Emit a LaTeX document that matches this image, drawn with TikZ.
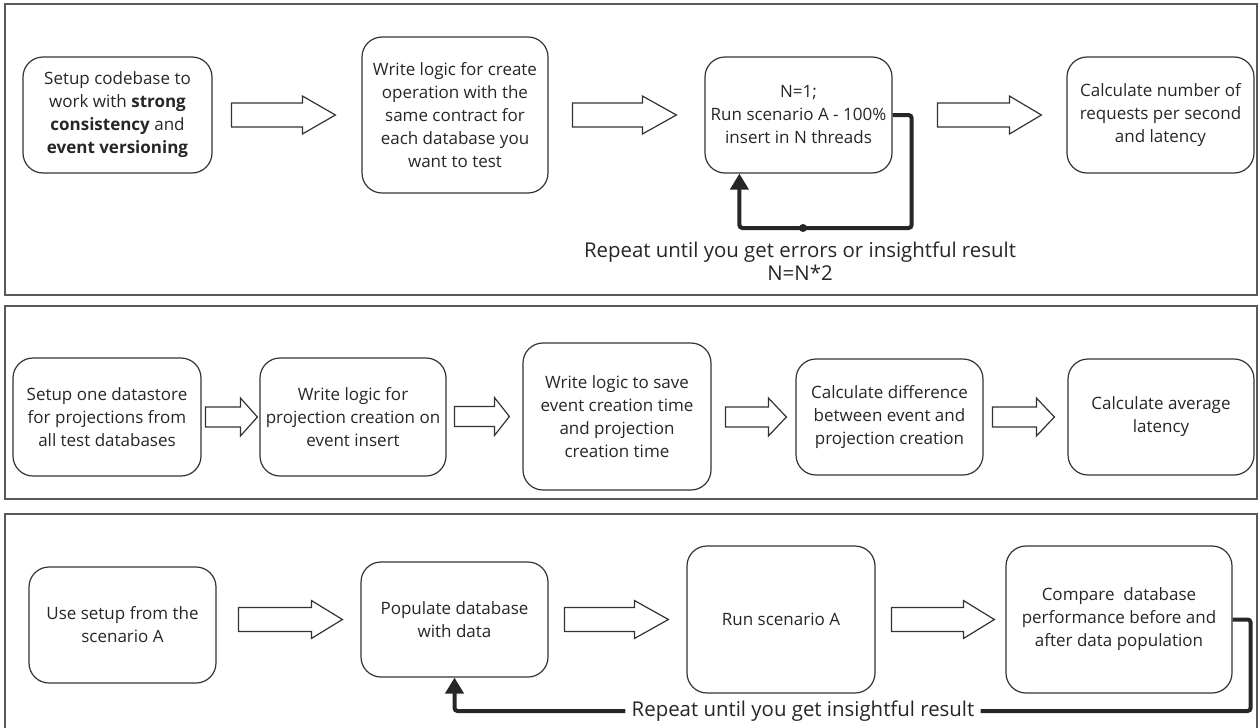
\documentclass[tikz,border=0pt]{standalone}
\usepackage{fontspec}
\setmainfont{Open Sans}
\usetikzlibrary{calc,arrows.meta}

\tikzset{
	panel/.style={draw=black!65,line width=0.8pt},
	box/.style 2 args={draw=black!80,line width=0.6pt,rounded corners=10pt,align=center,text=black!85,
		minimum width=#1*0.5pt,minimum height=#2*0.5pt,inner sep=2pt,font=\fontsize{8.5}{11.5}\selectfont},
	bigarrow/.style={draw=black!80,line width=0.6pt,fill=white,line join=miter},
	loopline/.style={draw=black!85,line width=2pt,rounded corners=1.5pt},
	looplabel/.style={align=center,text=black!85,inner sep=3pt,font=\fontsize{10.2}{11.5}\selectfont},
}

% hollow arrow, tip #2 before anchor #1
% #3 length, #4 head length, #5 half shaft, #6 half head
\newcommand{\hollowarrow}[6]{%
	\draw[bigarrow] ($(#1)+(-#2,0)$) -- ++(-#4,#6) -- ++(0,#5-#6) -- ++(#4-#3,0) -- ++(0,-2*#5) -- ++(#3-#4,0) -- ++(0,#5-#6) -- cycle;}

\begin{document}
\begin{tikzpicture}[x=0.5pt,y=-0.5pt,>={Triangle[length=8pt,width=9pt]}]
	\useasboundingbox (0,0) rectangle (1259,728);
	% panels
	\draw[panel] (5,4) rectangle (1257,295);
	\draw[panel] (5,306) rectangle (1257,499);
	\draw[panel] (5,514) rectangle (1257,740);

	% scenario A
	\node[box={189}{116}] (A) at (117.5,115) {Setup codebase to\\work with \textbf{strong}\\\textbf{consistency} and\\\textbf{event versioning}};
	\node[box={186}{156}] (B) at (455,115) {Write logic for create\\operation with the\\same contract for\\each database you\\want to test};
	\node[box={187}{116}] (C) at (798.5,115) {N=1;\\Run scenario A - 100\%\\insert in N threads};
	\node[box={187}{116}] (D) at (1160.5,115) {Calculate number of\\requests per second\\and latency};
	\hollowarrow{B.west}{26}{104}{33}{12}{19}
	\hollowarrow{C.west}{28}{104}{34}{12}{19}
	\hollowarrow{D.west}{25}{104}{32}{12}{19}
	\coordinate (dot1) at (803,228);
	\draw[loopline,->] (C.east) -- ++(19,0) |- (dot1) -| ($(C.south west)+(35,0)$);
	\fill[black!85] (dot1) circle (2pt);
	\node[looplabel] (rep1) at (800,261.5) {Repeat until you get errors or insightful result\\N=N*2};

	% scenario B
	\node[box={188}{118}] (E) at (107,417) {Setup one datastore\\for projections from\\all test databases};
	\node[box={186}{118}] (F) at (353,417) {Write logic for\\projection creation on\\event insert};
	\node[box={188}{147}] (G) at (617,416.5) {Write logic to save\\event creation time\\and projection\\creation time};
	\node[box={187}{116}] (H) at (889.5,417) {Calculate difference\\between event and\\projection creation};
	\node[box={186}{116}] (I) at (1161,417) {Calculate average\\latency};
	\hollowarrow{F.west}{2}{52}{17}{10}{19}
	\hollowarrow{G.west}{13}{55}{15}{10}{19}
	\hollowarrow{H.west}{9}{61}{18}{10}{19}
	\hollowarrow{I.west}{13}{62}{18}{10}{19}

	% scenario C
	\node[box={187}{116}] (J) at (122.5,625) {Use setup from the\\scenario A};
	\node[box={187}{115}] (K) at (454.5,619.5) {Populate database\\with data};
	\node[box={188}{147}] (L) at (781,619.5) {Run scenario A};
	\node[box={226}{147}] (M) at (1119,619.5) {Compare~ database\\performance before and\\after data population};
	\hollowarrow{K.west}{18}{104}{31}{12}{19}
	\hollowarrow{L.west}{18}{104}{34}{12}{19}
	\hollowarrow{M.west}{11}{103}{31}{12}{19}
	\node[looplabel] (rep2) at (803,711) {Repeat until you get insightful result};
	\draw[loopline] (M.east) -- ++(18,0) |- (rep2.east);
	\draw[loopline,->] (rep2.west) -| (K.south);
\end{tikzpicture}
\end{document}
